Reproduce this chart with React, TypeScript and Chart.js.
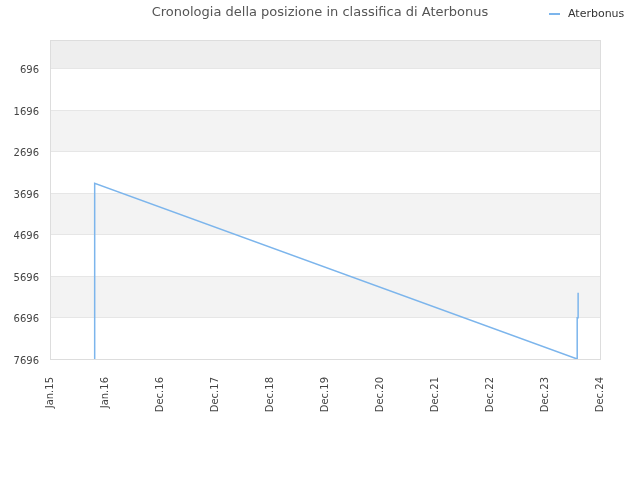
import { useEffect, useRef } from "react";
import { Chart, registerables } from "chart.js";

Chart.register(...registerables);

const chartTitle = "Cronologia della posizione in classifica di Aterbonus";
const seriesName = "Aterbonus";

// x tick labels, evenly spread from Jan 2015 to Dec 2024
const tickLabels = ["Jan.15", "Jan.16", "Dec.16", "Dec.17", "Dec.18", "Dec.19", "Dec.20", "Dec.21", "Dec.22", "Dec.23", "Dec.24"];
const rankTicks = [696, 1696, 2696, 3696, 4696, 5696, 6696, 7696];

const rankDates = ["2015-10-20", "2015-10-20", "2015-10-21", "2015-10-21", "2015-10-22", "2024-07-03", "2024-07-03", "2024-07-09", "2024-07-09"];
const rankValues = [7696, 5400, 4300, 3900, 3460, 7696, 6700, 6700, 6100];

const X_MAX = 119; // months from Jan 2015 to Dec 2024

const toMonths = (d: string) => {
  const [y, m, day] = d.split("-").map(Number);
  return (y - 2015) * 12 + (m - 1) + (day - 1) / 30;
};

const bandsPlugin = {
  id: "bands",
  beforeDraw(chart: any) {
    const { ctx, chartArea, scales } = chart;
    const edges = [0, ...rankTicks];
    ctx.save();
    for (let i = 0; i < edges.length - 1; i++) {
      const top = scales.y.getPixelForValue(edges[i]);
      const bot = scales.y.getPixelForValue(edges[i + 1]);
      ctx.fillStyle = i === 0 ? "#eeeeee" : i % 2 === 0 ? "#f3f3f3" : "#ffffff";
      ctx.fillRect(chartArea.left, top, chartArea.right - chartArea.left, bot - top);
    }
    ctx.restore();
  },
  afterDraw(chart: any) {
    const { ctx, chartArea } = chart;
    ctx.save();
    ctx.strokeStyle = "#dddddd";
    ctx.lineWidth = 1;
    ctx.strokeRect(chartArea.left + 0.5, chartArea.top + 0.5, chartArea.right - chartArea.left, chartArea.bottom - chartArea.top);

    ctx.fillStyle = "#555555";
    ctx.font = "13px 'DejaVu Sans'";
    ctx.textAlign = "center";
    ctx.textBaseline = "middle";
    ctx.fillText(chartTitle, 320, 13);

    ctx.strokeStyle = "#7cb5ec";
    ctx.lineWidth = 2;
    ctx.beginPath();
    ctx.moveTo(549, 14);
    ctx.lineTo(560, 14);
    ctx.stroke();
    ctx.fillStyle = "#333333";
    ctx.font = "11px 'DejaVu Sans'";
    ctx.textAlign = "left";
    ctx.fillText(seriesName, 568, 14);
    ctx.restore();
  },
};

export default function App() {
  const canvasRef = useRef<HTMLCanvasElement>(null);

  useEffect(() => {
    document.body.style.margin = "0";
    if (!canvasRef.current) return;
    Chart.defaults.font.family = "'DejaVu Sans'";
    const chart = new Chart(canvasRef.current, {
      type: "line",
      data: {
        datasets: [
          {
            label: seriesName,
            data: rankDates.map((d, i) => ({ x: toMonths(d), y: rankValues[i] })),
            borderColor: "#7cb5ec",
            borderWidth: 1.5,
            pointRadius: 0,
            fill: false,
            tension: 0,
          },
        ],
      },
      options: {
        animation: false,
        responsive: false,
        layout: { padding: { top: 40, right: 40, left: 0, bottom: 0 } },
        plugins: { legend: { display: false }, title: { display: false }, tooltip: { enabled: false } },
        scales: {
          x: {
            type: "linear",
            min: 0,
            max: X_MAX,
            afterBuildTicks: (scale: any) => {
              scale.ticks = tickLabels.map((_, i) => ({ value: (i * X_MAX) / (tickLabels.length - 1) }));
            },
            afterFit: (scale: any) => {
              scale.height = 121;
            },
            grid: { display: false },
            border: { display: false },
            ticks: {
              autoSkip: false,
              maxRotation: 90,
              minRotation: 90,
              padding: 10,
              color: "#444444",
              font: { size: 10 },
              callback: (_v: any, i: number) => tickLabels[i],
            },
          },
          y: {
            reverse: true,
            min: 0,
            max: 7696,
            afterBuildTicks: (scale: any) => {
              scale.ticks = rankTicks.map((v) => ({ value: v }));
            },
            afterFit: (scale: any) => {
              scale.width = 50;
            },
            grid: { color: "#e6e6e6", drawTicks: false },
            border: { display: false },
            ticks: {
              padding: 11,
              labelOffset: 2,
              color: "#444444",
              font: { size: 10 },
              callback: (v: any) => String(v),
            },
          },
        },
      },
      plugins: [bandsPlugin],
    });
    return () => chart.destroy();
  }, []);

  return (
    <div style={{ width: 640, height: 480 }}>
      <canvas ref={canvasRef} width={640} height={480}></canvas>
    </div>
  );
}
